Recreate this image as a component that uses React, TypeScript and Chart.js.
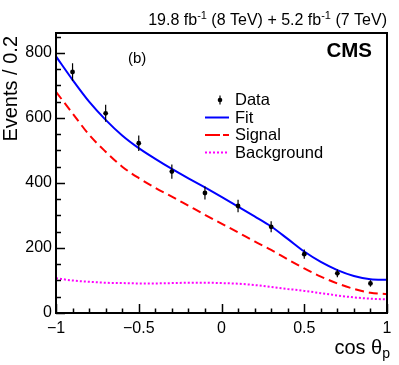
import React, { useEffect, useRef } from "react";
import { Chart, registerables } from "chart.js";

Chart.register(...registerables);

// ---- data ----
const curveX = [-1, -0.9, -0.8, -0.7, -0.6, -0.5, -0.4, -0.3, -0.2, -0.1, 0, 0.1, 0.2, 0.3, 0.4, 0.5, 0.6, 0.7, 0.8, 0.9, 1];
const fitY = [789, 717, 650, 594, 546, 507, 474, 443, 414, 386, 357, 327, 297, 266, 228, 189, 157, 132, 114, 104, 102];
const signalY = [680, 614, 548, 496, 450, 415, 385, 358, 330, 302, 275, 248, 220, 194, 165, 137, 112, 91, 74, 62, 58];
const backgroundY = [107, 100, 96, 93, 92, 91, 91, 92, 93, 93, 92, 90, 86, 80, 74, 68, 61, 54, 48, 44, 42];

const dataX = [-0.9, -0.7, -0.5, -0.3, -0.1, 0.1, 0.3, 0.5, 0.7, 0.9];
const dataY = [741, 614, 522, 435, 369, 329, 265, 181, 122, 91];
const dataErr = [27, 26, 24, 22, 20, 19, 17, 14, 12, 10];

const xTickValues = [-1, -0.5, 0, 0.5, 1];
const xTickLabels = ["\u22121", "\u22120.5", "0", "0.5", "1"];
const yTickValues = [0, 200, 400, 600, 800];
const yTickLabels = ["0", "200", "400", "600", "800"];
const yMin = 0;
const yMax = 861;
const xMin = -1;
const xMax = 1;
const xMinorStep = 0.1;
const yMinorStep = 50;

const FONT = "'Liberation Sans', Arial, Helvetica, sans-serif";

type Part = { t: string; size: number; dy?: number; bold?: boolean };

function drawParts(ctx: CanvasRenderingContext2D, parts: Part[], xRight: number, baseline: number) {
  let total = 0;
  for (const p of parts) {
    ctx.font = `${p.bold ? "bold " : ""}${p.size}px ${FONT}`;
    total += ctx.measureText(p.t).width;
  }
  let x = xRight - total;
  ctx.textAlign = "left";
  ctx.textBaseline = "alphabetic";
  for (const p of parts) {
    ctx.font = `${p.bold ? "bold " : ""}${p.size}px ${FONT}`;
    ctx.fillText(p.t, x, baseline + (p.dy || 0));
    x += ctx.measureText(p.t).width;
  }
}

const rootStyle = {
  id: "rootStyle",
  afterDatasetsDraw(chart: any) {
    const ctx: CanvasRenderingContext2D = chart.ctx;
    const xs = chart.scales.x;
    const ys = chart.scales.y;
    ctx.save();
    ctx.strokeStyle = "#000";
    ctx.lineWidth = 1.2;
    dataX.forEach((xv, i) => {
      const px = xs.getPixelForValue(xv);
      ctx.beginPath();
      ctx.moveTo(px, ys.getPixelForValue(dataY[i] - dataErr[i]));
      ctx.lineTo(px, ys.getPixelForValue(dataY[i] + dataErr[i]));
      ctx.stroke();
    });
    ctx.restore();
  },
  afterDraw(chart: any) {
    const ctx: CanvasRenderingContext2D = chart.ctx;
    const a = chart.chartArea;
    const xs = chart.scales.x;
    const ys = chart.scales.y;
    ctx.save();
    ctx.fillStyle = "#000";
    ctx.strokeStyle = "#000";

    // ticks
    ctx.lineWidth = 1.5;
    ctx.beginPath();
    for (let k = 0; yMin + k * yMinorStep <= yMax + 1e-9; k++) {
      const v = yMin + k * yMinorStep;
      const py = Math.round(ys.getPixelForValue(v)) + 0.5;
      const major = yTickValues.some((t) => Math.abs(t - v) < 1e-6);
      ctx.moveTo(a.left, py);
      ctx.lineTo(a.left + (major ? 9 : 5), py);
    }
    const nx = Math.round((xMax - xMin) / xMinorStep);
    for (let k = 0; k <= nx; k++) {
      const v = xMin + k * xMinorStep;
      const px = Math.round(xs.getPixelForValue(v)) + 0.5;
      const major = xTickValues.some((t) => Math.abs(t - v) < 1e-6);
      ctx.moveTo(px, a.bottom);
      ctx.lineTo(px, a.bottom - (major ? 9 : 4.5));
    }
    ctx.stroke();

    // frame
    ctx.lineWidth = 2;
    ctx.strokeRect(a.left, a.top, a.right - a.left, a.bottom - a.top);

    // lumi text
    drawParts(
      ctx,
      [
        { t: "19.8 fb", size: 16 },
        { t: "-1", size: 11, dy: -6 },
        { t: " (8 TeV) + 5.2 fb", size: 16 },
        { t: "-1", size: 11, dy: -6 },
        { t: " (7 TeV)", size: 16 },
      ],
      387,
      25
    );

    // CMS
    drawParts(ctx, [{ t: "CMS", size: 20.5, bold: true }], 372, 57);

    // (b)
    ctx.font = `15px ${FONT}`;
    ctx.textAlign = "left";
    ctx.fillText("(b)", 128, 63);

    // legend
    const lx0 = 205;
    const lx1 = 229;
    const textX = 235;
    const rows = [
      { label: "Data", base: 105 },
      { label: "Fit", base: 122.5 },
      { label: "Signal", base: 140 },
      { label: "Background", base: 157.5 },
    ];
    ctx.font = `16.5px ${FONT}`;
    rows.forEach((r) => ctx.fillText(r.label, textX, r.base));
    // data symbol
    const dY = rows[0].base - 5;
    ctx.lineWidth = 1.2;
    ctx.beginPath();
    ctx.moveTo(220, dY - 4.5);
    ctx.lineTo(220, dY + 4.5);
    ctx.stroke();
    ctx.beginPath();
    ctx.arc(220, dY, 2.3, 0, Math.PI * 2);
    ctx.fill();
    // fit
    ctx.lineWidth = 2;
    ctx.strokeStyle = "#0000ff";
    ctx.beginPath();
    ctx.moveTo(lx0, rows[1].base - 5);
    ctx.lineTo(lx1, rows[1].base - 5);
    ctx.stroke();
    // signal
    ctx.strokeStyle = "#ff0000";
    ctx.setLineDash([15, 3]);
    ctx.beginPath();
    ctx.moveTo(lx0, rows[2].base - 5);
    ctx.lineTo(lx1, rows[2].base - 5);
    ctx.stroke();
    // background
    ctx.strokeStyle = "#ff00ff";
    ctx.setLineDash([2, 2]);
    ctx.beginPath();
    ctx.moveTo(lx0, rows[3].base - 5);
    ctx.lineTo(lx1, rows[3].base - 5);
    ctx.stroke();
    ctx.setLineDash([]);

    // x title
    ctx.fillStyle = "#000";
    drawParts(
      ctx,
      [
        { t: "cos \u03b8", size: 20 },
        { t: "p", size: 14, dy: 4 },
      ],
      390,
      354
    );

    // y title
    ctx.save();
    ctx.translate(17, 36);
    ctx.rotate(-Math.PI / 2);
    ctx.font = `20px ${FONT}`;
    ctx.textAlign = "right";
    ctx.textBaseline = "alphabetic";
    ctx.fillText("Events / 0.2", 0, 0);
    ctx.restore();

    ctx.restore();
  },
};

export default function App() {
  const ref = useRef<HTMLCanvasElement | null>(null);

  useEffect(() => {
    document.body.style.margin = "0";
    document.body.style.overflow = "hidden";
    const canvas = ref.current;
    if (!canvas) return;

    const toPts = (ys: number[]) => curveX.map((x, i) => ({ x, y: ys[i] }));

    const chart = new Chart(canvas, {
      type: "line",
      data: {
        datasets: [
          {
            label: "Data",
            type: "scatter",
            data: dataX.map((x, i) => ({ x, y: dataY[i] })),
            pointRadius: 2.4,
            pointBackgroundColor: "#000",
            pointBorderWidth: 0,
            showLine: false,
            order: 0,
          } as any,
          {
            label: "Fit",
            data: toPts(fitY),
            borderColor: "#0000ff",
            borderWidth: 2,
            pointRadius: 0,
            cubicInterpolationMode: "monotone",
            order: 1,
          },
          {
            label: "Signal",
            data: toPts(signalY),
            borderColor: "#ff0000",
            borderWidth: 2,
            borderDash: [9, 5],
            pointRadius: 0,
            cubicInterpolationMode: "monotone",
            order: 2,
          },
          {
            label: "Background",
            data: toPts(backgroundY),
            borderColor: "#ff00ff",
            borderWidth: 2,
            borderDash: [2, 2],
            pointRadius: 0,
            cubicInterpolationMode: "monotone",
            order: 3,
          },
        ],
      },
      options: {
        responsive: false,
        animation: false,
        events: [],
        layout: { padding: { top: 33, right: 12, left: 0, bottom: 0 } },
        plugins: {
          legend: { display: false },
          tooltip: { enabled: false },
          title: { display: false },
        },
        scales: {
          x: {
            type: "linear",
            min: xMin,
            max: xMax,
            grid: { display: false, drawTicks: false },
            border: { display: false },
            afterBuildTicks: (s: any) => {
              s.ticks = xTickValues.map((v) => ({ value: v }));
            },
            afterFit: (s: any) => {
              s.height = 52;
            },
            ticks: {
              autoSkip: false,
              maxRotation: 0,
              padding: 6,
              color: "#000",
              font: { family: FONT, size: 16 },
              callback: (v: any) => {
                const i = xTickValues.findIndex((t) => Math.abs(t - Number(v)) < 1e-6);
                return i >= 0 ? xTickLabels[i] : "";
              },
            },
          },
          y: {
            type: "linear",
            min: yMin,
            max: yMax,
            grid: { display: false, drawTicks: false },
            border: { display: false },
            afterBuildTicks: (s: any) => {
              s.ticks = yTickValues.map((v) => ({ value: v }));
            },
            afterFit: (s: any) => {
              s.width = 56;
            },
            ticks: {
              autoSkip: false,
              padding: 4,
              color: "#000",
              font: { family: FONT, size: 16 },
              callback: (v: any) => {
                const i = yTickValues.findIndex((t) => Math.abs(t - Number(v)) < 1e-6);
                return i >= 0 ? yTickLabels[i] : "";
              },
            },
          },
        },
      },
      plugins: [rootStyle],
    });

    return () => chart.destroy();
  }, []);

  return (
    <div style={{ width: 399, height: 365, background: "#fff" }}>
      <canvas ref={ref} width={399} height={365} style={{ display: "block" }} />
    </div>
  );
}
